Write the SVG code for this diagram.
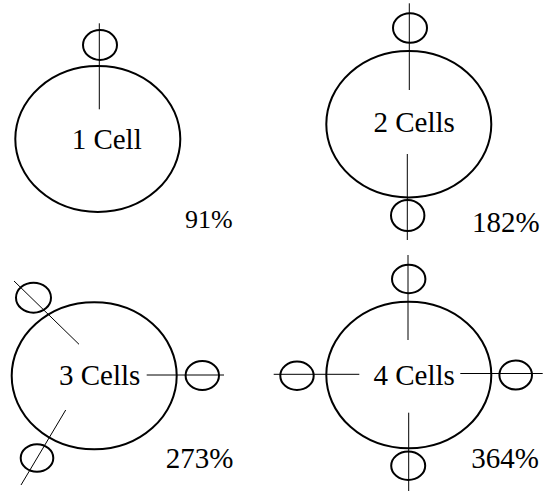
<svg xmlns="http://www.w3.org/2000/svg" width="543" height="491" viewBox="0 0 543 491">
<style>
.big{fill:none;stroke:#000;stroke-width:2}
.sm{fill:none;stroke:#000;stroke-width:2}
.ln{stroke:#000;stroke-width:1;fill:none}
.lbl{font-family:"Liberation Serif","Times New Roman",serif;font-size:29px;fill:#000;text-anchor:middle}
.pct{font-family:"Liberation Serif","Times New Roman",serif;font-size:29px;fill:#000}
</style>
<rect width="543" height="491" fill="#fff"/>
<g id="cell1">
<ellipse class="big" cx="97.8" cy="139" rx="82.5" ry="73"/>
<ellipse class="sm" cx="100" cy="45" rx="17" ry="15"/>
<text class="lbl" x="106.7" y="149">1 Cell</text>
<text class="pct" x="185" y="227.5" style="font-size:26px">91%</text>
</g>
<g id="cell2">
<ellipse class="big" cx="408.8" cy="124.2" rx="82.5" ry="73.2"/>
<ellipse class="sm" cx="410" cy="28" rx="17" ry="14.7"/>
<ellipse class="sm" cx="407.7" cy="215.5" rx="16.7" ry="15.5"/>
<text class="lbl" x="414.2" y="131.7">2 Cells</text>
<text class="pct" x="472" y="231.7">182%</text>
</g>
<g id="cell3">
<ellipse class="big" cx="94.2" cy="375.8" rx="82.5" ry="73.5"/>
<ellipse class="sm" cx="33.5" cy="297.7" rx="17.5" ry="15"/>
<ellipse class="sm" cx="202.3" cy="375.5" rx="16.7" ry="14.5"/>
<ellipse class="sm" cx="37" cy="458" rx="16.3" ry="13.7"/>
<text class="lbl" x="99.7" y="385">3 Cells</text>
<text class="pct" x="165.7" y="468.3">273%</text>
</g>
<g id="cell4">
<ellipse class="big" cx="408.8" cy="375" rx="82.5" ry="73.3"/>
<ellipse class="sm" cx="408.7" cy="279" rx="16.7" ry="14.2"/>
<ellipse class="sm" cx="297" cy="375.8" rx="16.7" ry="14.2"/>
<ellipse class="sm" cx="515.7" cy="375" rx="16.3" ry="14.5"/>
<ellipse class="sm" cx="408.2" cy="465.8" rx="17" ry="14.2"/>
<text class="lbl" x="414.2" y="385">4 Cells</text>
<text class="pct" x="471.3" y="468.3">364%</text>
</g>
<g id="connectors">
<line class="ln" x1="99.3" y1="23.3" x2="99.3" y2="109.3"/>
<line class="ln" x1="409.3" y1="3.3" x2="409.3" y2="90"/>
<line class="ln" x1="407.3" y1="154" x2="407.3" y2="240"/>
<line class="ln" x1="14" y1="281" x2="79" y2="344.3"/>
<line class="ln" x1="146.7" y1="375" x2="224" y2="375"/>
<line class="ln" x1="65.7" y1="410" x2="21" y2="485"/>
<line class="ln" x1="408" y1="255" x2="408" y2="340"/>
<line class="ln" x1="273.7" y1="374.3" x2="359.3" y2="374.3"/>
<line class="ln" x1="460.3" y1="373.5" x2="542.7" y2="373.5"/>
<line class="ln" x1="408.7" y1="412.7" x2="408.7" y2="491"/>
</g>
</svg>
